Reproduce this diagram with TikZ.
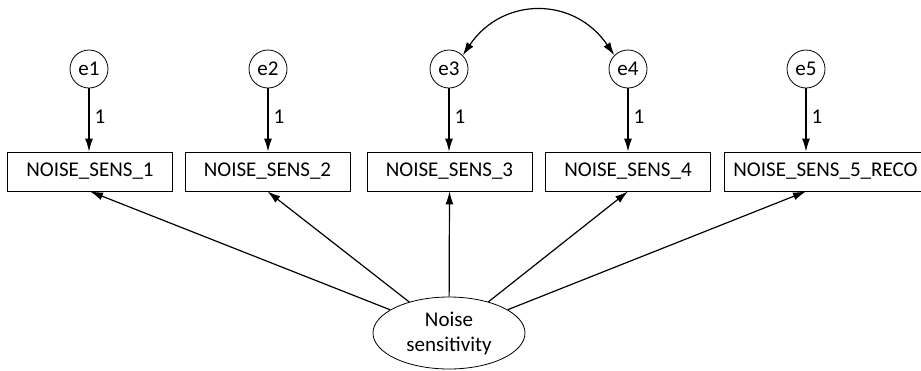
\documentclass[tikz,border=0pt]{standalone}
\usepackage{fontspec}
\setmainfont{Carlito}
\usetikzlibrary{arrows.meta,shapes.geometric}

\begin{document}
\begin{tikzpicture}[
    x=0.5pt, y=-0.5pt,
    font=\fontsize{10.5}{12.5}\selectfont,
    err/.style={draw, circle, minimum size=19pt, inner sep=0pt},
    obs/.style={draw, minimum width=82.5pt, minimum height=19.5pt, inner sep=0pt},
    lat/.style={draw, ellipse, minimum width=76pt, minimum height=36pt, inner sep=0pt, align=center},
    line/.style={-{Latex[length=6.5pt,width=4pt]}, line width=0.6pt},
    wt/.style={right, inner sep=2.5pt, pos=0.45}
]
    \useasboundingbox (0,0) rectangle (921,370);
    \clip (0,0) rectangle (921,370);

    \node[err] (e1) at (89,69) {e1};
    \node[err] (e2) at (268,69) {e2};
    \node[err] (e3) at (449,69) {e3};
    \node[err] (e4) at (628,69) {e4};
    \node[err] (e5) at (806,69) {e5};

    \node[obs] (b1) at (90,171.5) {NOISE\_SENS\_1};
    \node[obs] (b2) at (267.5,171.5) {NOISE\_SENS\_2};
    \node[obs] (b3) at (449.5,171.5) {NOISE\_SENS\_3};
    \node[obs] (b4) at (628,171.5) {NOISE\_SENS\_4};
    \node[obs, anchor=west, text width=110pt, align=left, inner xsep=4.5pt] (b5) at (724,171.5) {NOISE\_SENS\_5\_RECO};
    \coordinate (b5top) at (e5 |- b5.north);
    \coordinate (b5bot) at (e5 |- b5.south);

    \node[lat] (ns) at (449,333) {Noise\\sensitivity};

    \draw[line] (e1) -- node[wt] {1} (e1 |- b1.north);
    \draw[line] (e2) -- node[wt] {1} (e2 |- b2.north);
    \draw[line] (e3) -- node[wt] {1} (e3 |- b3.north);
    \draw[line] (e4) -- node[wt] {1} (e4 |- b4.north);
    \draw[line] (e5) -- node[wt] {1} (b5top);

    \draw[line, {Latex[length=6.5pt,width=4pt]}-{Latex[length=6.5pt,width=4pt]}] (e3.45) .. controls +(40,-59) and +(-40,-59) .. (e4.135);

    \draw[line] (ns) -- (b1.south);
    \draw[line] (ns) -- (b2.south);
    \draw[line] (ns) -- (b3.south);
    \draw[line] (ns) -- (b4.south);
    \draw[line] (ns) -- (b5bot);
\end{tikzpicture}
\end{document}
